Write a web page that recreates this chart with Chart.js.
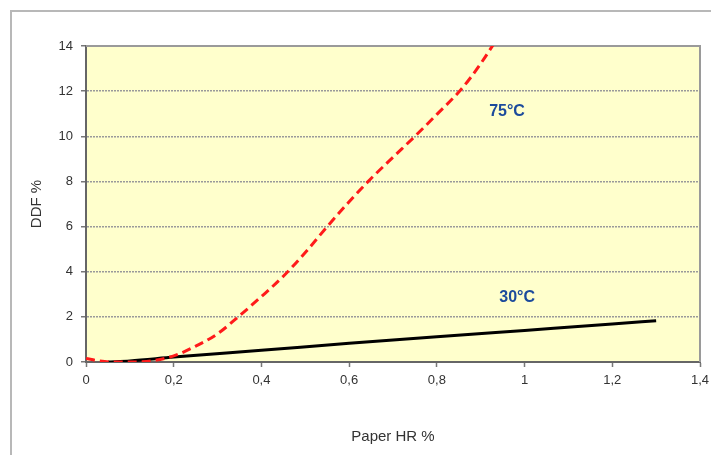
<!DOCTYPE html>
<html>
<head>
<meta charset="utf-8">
<script src="https://cdn.jsdelivr.net/npm/chart.js@4"></script>
<style>
  html, body { margin: 0; padding: 0; background: #fff; }
  #wrap { position: relative; width: 711px; height: 455px; overflow: hidden; }
  #frame { position: absolute; left: 10px; top: 10px; width: 720px; height: 470px;
           border-left: 2px solid #b8b8b8; border-top: 2px solid #b8b8b8; }
  canvas { position: absolute; left: 0; top: 0; }
</style>
</head>
<body>
<div id="wrap">
  <div id="frame"></div>
  <canvas id="grafico" width="711" height="455"></canvas>
</div>
<script>
// dados
const xQuente = [0, 0.03, 0.06, 0.1, 0.15, 0.2, 0.25, 0.3, 0.35, 0.4, 0.45, 0.5, 0.55, 0.6, 0.65, 0.7, 0.75, 0.8, 0.85, 0.875, 0.9, 0.93];
const yQuente = [0.16, 0.05, 0, 0, 0.05, 0.27, 0.7, 1.25, 2.05, 2.9, 3.8, 4.85, 6.0, 7.1, 8.13, 9.07, 10.0, 10.97, 11.96, 12.55, 13.22, 14.1];

const xFrio = [0.05, 0.1, 0.2, 0.4, 0.6, 0.8, 1.0, 1.2, 1.3];
const yFrio = [0, 0.05, 0.22, 0.52, 0.83, 1.12, 1.4, 1.68, 1.83];

// rótulos das curvas (posição em valores do gráfico)
const rotulos = ['75°C', '30°C'];
const rotuloX = [0.96, 0.983];
const rotuloY = [11.08, 2.84];

const fonte = "'Liberation Sans', Arial, sans-serif";

// fundo amarelo e moldura da área do gráfico
const fundoPlot = {
    id: 'fundoPlot',
    beforeDraw(chart) {
        const { ctx, chartArea: a } = chart;
        ctx.save();
        ctx.fillStyle = '#ffffcc';
        ctx.fillRect(a.left, a.top, a.right - a.left, a.bottom - a.top);
        ctx.restore();
    },
    beforeDatasetsDraw(chart) {
        const { ctx, chartArea: a } = chart;
        ctx.save();
        ctx.strokeStyle = '#9a9a9a';
        ctx.lineWidth = 2;
        ctx.beginPath();
        ctx.moveTo(a.left, a.top);
        ctx.lineTo(a.right, a.top);
        ctx.lineTo(a.right, a.bottom);
        ctx.stroke();
        ctx.restore();
    }
};

// textos 75°C / 30°C
const textoCurvas = {
    id: 'textoCurvas',
    afterDatasetsDraw(chart) {
        const { ctx, scales } = chart;
        ctx.save();
        ctx.font = 'bold 16px ' + fonte;
        ctx.fillStyle = '#1c4b9c';
        ctx.textAlign = 'center';
        ctx.textBaseline = 'middle';
        rotulos.forEach((t, i) => {
            ctx.fillText(t, scales.x.getPixelForValue(rotuloX[i]), scales.y.getPixelForValue(rotuloY[i]));
        });
        ctx.restore();
    }
};

const virgula = v => String(Math.round(v * 10) / 10).replace('.', ',');

new Chart(document.getElementById('grafico'), {
    type: 'scatter',
    data: {
        datasets: [
            {
                label: '75°C',
                data: xQuente.map((x, i) => ({ x: x, y: yQuente[i] })),
                showLine: true,
                borderColor: '#ff1a1a',
                borderWidth: 3,
                borderDash: [9, 5],
                pointRadius: 0,
                cubicInterpolationMode: 'monotone'
            },
            {
                label: '30°C',
                data: xFrio.map((x, i) => ({ x: x, y: yFrio[i] })),
                showLine: true,
                borderColor: '#000',
                borderWidth: 3,
                pointRadius: 0,
                cubicInterpolationMode: 'monotone'
            }
        ]
    },
    options: {
        responsive: false,
        animation: false,
        layout: { padding: { left: 28, top: 46, right: 11, bottom: 4 } },
        plugins: {
            legend: { display: false },
            tooltip: { enabled: false }
        },
        scales: {
            x: {
                type: 'linear',
                min: 0,
                max: 1.4,
                afterFit: s => { s.height = 89; s.paddingRight = 0; s.paddingLeft = 0; },
                ticks: {
                    stepSize: 0.2,
                    color: '#333',
                    padding: 6,
                    font: { size: 13, family: fonte },
                    callback: v => virgula(v)
                },
                grid: { drawOnChartArea: false, tickLength: 5, tickColor: '#777', tickWidth: 1.5 },
                border: { color: '#666', width: 2 },
                title: {
                    display: true,
                    text: 'Paper HR %',
                    color: '#333',
                    padding: { top: 0, bottom: 5 },
                    font: { size: 15, family: fonte }
                }
            },
            y: {
                min: 0,
                max: 14,
                afterFit: s => { s.width = 58; },
                ticks: {
                    stepSize: 2,
                    color: '#333',
                    padding: 8,
                    font: { size: 13, family: fonte }
                },
                grid: { color: '#9a9a9a', lineWidth: 1.5, tickLength: 5, tickColor: '#777', tickWidth: 1.5 },
                border: { color: '#666', width: 2, dash: [2, 1] },
                title: {
                    display: true,
                    text: 'DDF %',
                    color: '#333',
                    padding: { top: 0, bottom: 0 },
                    font: { size: 15, family: fonte }
                }
            }
        }
    },
    plugins: [fundoPlot, textoCurvas]
});
</script>
</body>
</html>
